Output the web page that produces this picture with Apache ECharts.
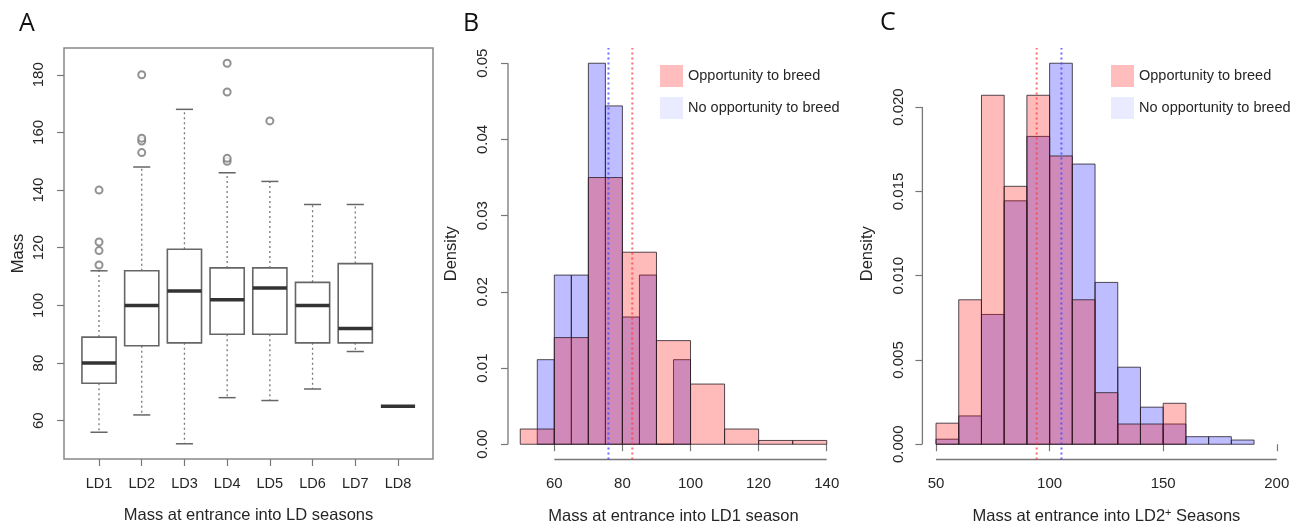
<!DOCTYPE html>
<html><head><meta charset="utf-8">
<script src="https://cdn.jsdelivr.net/npm/echarts@6/dist/echarts.min.js"></script>
<style>html,body{margin:0;padding:0;background:#fff}#c{width:1306px;height:526px}</style>
</head><body><div id="c"></div>
<script>
// ---------- Panel A data (boxplots) ----------
const categories = ['LD1','LD2','LD3','LD4','LD5','LD6','LD7','LD8'];
const boxLow  = [56, 62, 52, 68, 67, 71, 84, 65];
const boxQ1   = [73, 86, 87, 90, 90, 87, 87, 65];
const boxMed  = [80, 100, 105, 102, 106, 100, 92, 65];
const boxQ3   = [89, 112, 119.5, 113, 113, 108, 114.5, 65];
const boxHigh = [112, 148, 168, 146, 143, 135, 135, 65];
const outlierCat = [1, 1, 1, 1, 2, 2, 2, 2, 4, 4, 4, 4, 5];
const outlierVal = [114, 119, 122, 140, 153, 157, 158, 180, 150, 151, 174, 184, 164];
const aYTicks = [60, 80, 100, 120, 140, 160, 180];

// ---------- Panel B data (LD1 histograms) ----------
const bRedBreaks  = [50, 60, 70, 80, 90, 100, 110, 120, 130, 140];
const bRedDens    = [0.002, 0.014, 0.035, 0.0252, 0.0136, 0.0079, 0.002, 0.0005, 0.0005];
const bBlueBreaks = [55, 60, 65, 70, 75, 80, 85, 90, 95, 100];
const bBlueDens   = [0.0111, 0.0222, 0.0222, 0.05, 0.0444, 0.0167, 0.0222, 0, 0.0111];
const bRedMean = 82.9, bBlueMean = 75.9;
const bXTicks = [60, 80, 100, 120, 140];
const bYTicks = [0, 0.01, 0.02, 0.03, 0.04, 0.05];

// ---------- Panel C data (LD2+ histograms) ----------
const cRedBreaks  = [50, 60, 70, 80, 90, 100, 110, 120, 130, 140, 150, 160];
const cRedDens    = [0.00125, 0.00857, 0.0207, 0.0153, 0.0207, 0.0171, 0.00857, 0.00306, 0.0012, 0.0012, 0.00243];
const cBlueBreaks = [50, 60, 70, 80, 90, 100, 110, 120, 130, 140, 150, 160, 170, 180, 190];
const cBlueDens   = [0.0003, 0.00168, 0.0077, 0.01444, 0.01826, 0.0226, 0.01662, 0.0096, 0.00457, 0.0022, 0.0012, 0.00045, 0.00045, 0.00025];
const cRedMean = 94.3, cBlueMean = 105.2;
const cXTicks = [50, 100, 150, 200];
const cYTicks = [0, 0.005, 0.01, 0.015, 0.02];

const legendNames = ['Opportunity to breed', 'No opportunity to breed'];

// ---------- axis ranges (R style 4% extension) ----------
const aX = [0.18, 8.82], aY = [46.72, 189.28];
const bX = [46.4, 143.6], bY = [-0.002, 0.052];
const cX = [44, 206],     cY = [-0.000904, 0.023504];

const FONT = '"Liberation Sans", Arial, sans-serif';
const TXT = '#262626';
const RED_FILL = 'rgba(255,0,0,0.27)';
const BLUE_FILL = 'rgba(0,0,255,0.26)';
const BAR_STROKE = 'rgba(40,30,40,0.8)';

function seg(api, a, b, style) {
  const p = api.coord(a), q = api.coord(b);
  return { type: 'line', shape: { x1: p[0], y1: p[1], x2: q[0], y2: q[1] }, style: style };
}

function histSeries(name, idx, breaks, dens, fill) {
  return {
    type: 'custom', name: name, xAxisIndex: idx, yAxisIndex: idx, silent: true,
    itemStyle: { color: fill },
    encode: { x: [0, 1], y: 2 },
    data: dens.map((d, i) => [breaks[i], breaks[i + 1], d]),
    renderItem: function (params, api) {
      const p0 = api.coord([api.value(0), 0]);
      const p1 = api.coord([api.value(1), api.value(2)]);
      return { type: 'rect',
        shape: { x: p0[0], y: p1[1], width: p1[0] - p0[0], height: p0[1] - p1[1] },
        style: { fill: fill, stroke: BAR_STROKE, lineWidth: 1 } };
    }
  };
}

function meanLine(idx, m, yr, color) {
  return {
    type: 'custom', xAxisIndex: idx, yAxisIndex: idx, silent: true, z: 5,
    encode: { x: 0 }, data: [[m]],
    renderItem: function (params, api) {
      return seg(api, [api.value(0), yr[0]], [api.value(0), yr[1]],
        { stroke: color, lineWidth: 2, lineDash: [2, 3] });
    }
  };
}

function axisLines(idx, xTicks, yTicks, xr, yr) {
  return {
    type: 'custom', xAxisIndex: idx, yAxisIndex: idx, silent: true,
    encode: { x: [0, 1], y: [2, 3] },
    data: [[xTicks[0], xTicks[xTicks.length - 1], yr[0], yr[0]],
           [xr[0], xr[0], yTicks[0], yTicks[yTicks.length - 1]]],
    renderItem: function (params, api) {
      return seg(api, [api.value(0), api.value(2)], [api.value(1), api.value(3)],
        { stroke: '#777', lineWidth: 1.3 });
    }
  };
}

function valAxis(idx, range, ticks, extra) {
  return Object.assign({
    type: 'value', gridIndex: idx, min: range[0], max: range[1],
    splitLine: { show: false },
    axisLine: { show: false },
    axisTick: { show: true, length: 7, customValues: ticks, lineStyle: { color: '#777', width: 1.2 } },
    nameLocation: 'middle',
    nameTextStyle: { fontSize: 16.5, fontFamily: FONT, color: TXT }
  }, extra || {});
}

function xLab(ticks, fmt, size) {
  return { customValues: ticks, formatter: fmt, fontSize: size, fontFamily: FONT, color: TXT, margin: 17 };
}
function yLab(ticks, fmt, margin) {
  return { customValues: ticks, formatter: fmt, rotate: 90, margin: margin, fontSize: 15, fontFamily: FONT, color: TXT };
}

const boxData = categories.map((c, i) => [i + 1, boxLow[i], boxQ1[i], boxMed[i], boxQ3[i], boxHigh[i]]);
const letterStyle = { fontSize: 25, fontWeight: 'normal', fontFamily: '"Open Sans", sans-serif', color: '#111' };

const option = {
  backgroundColor: '#fff',
  animation: false,
  title: [
    { text: 'A', left: 19, top: 11, padding: 0, textStyle: letterStyle },
    { text: 'B', left: 463, top: 11, padding: 0, textStyle: letterStyle },
    { text: 'C', left: 880, top: 10, padding: 0, textStyle: letterStyle }
  ],
  legend: [
    { orient: 'vertical', left: 660, top: 65, padding: 0, itemWidth: 23, itemHeight: 22, itemGap: 10,
      selectedMode: false, icon: 'rect',
      textStyle: { fontSize: 14.5, fontFamily: FONT, color: TXT },
      data: [ { name: legendNames[0], itemStyle: { color: '#ffbdbd', borderWidth: 0 } },
              { name: legendNames[1], itemStyle: { color: '#ebebff', borderWidth: 0 } } ] },
    { orient: 'vertical', left: 1111, top: 65, padding: 0, itemWidth: 23, itemHeight: 22, itemGap: 10,
      selectedMode: false, icon: 'rect',
      textStyle: { fontSize: 14.5, fontFamily: FONT, color: TXT },
      data: [ { name: legendNames[0], itemStyle: { color: '#ffbdbd', borderWidth: 0 } },
              { name: legendNames[1], itemStyle: { color: '#ebebff', borderWidth: 0 } } ] }
  ],
  grid: [
    { left: 64, top: 48, width: 369, height: 411, outerBoundsMode: 'none', containLabel: false, show: true, borderColor: '#888', borderWidth: 1.5, backgroundColor: 'transparent' },
    { left: 508, top: 48, width: 331, height: 411.5, outerBoundsMode: 'none', containLabel: false, show: false },
    { left: 922.4, top: 48, width: 368, height: 411.5, outerBoundsMode: 'none', containLabel: false, show: false }
  ],
  xAxis: [
    valAxis(0, aX, [1, 2, 3, 4, 5, 6, 7, 8],
      { name: 'Mass at entrance into LD seasons', nameGap: 48,
        axisLabel: xLab([1, 2, 3, 4, 5, 6, 7, 8], v => categories[Math.round(v) - 1], 14.5) }),
    valAxis(1, bX, bXTicks,
      { name: 'Mass at entrance into LD1 season', nameGap: 48,
        axisLabel: xLab(bXTicks, v => String(v), 15) }),
    valAxis(2, cX, cXTicks,
      { name: 'Mass at entrance into LD2{sup|+} Seasons', nameGap: 48,
        nameTextStyle: { fontSize: 16.5, fontFamily: FONT, color: TXT,
          rich: { sup: { fontSize: 11, fontFamily: FONT, color: TXT, verticalAlign: 'top', lineHeight: 12 } } },
        axisLabel: xLab(cXTicks, v => String(v), 15) })
  ],
  yAxis: [
    valAxis(0, aY, aYTicks, { name: 'Mass', nameGap: 37, nameRotate: 90, axisLabel: yLab(aYTicks, v => String(v), 18) }),
    valAxis(1, bY, bYTicks, { name: 'Density', nameGap: 48, nameRotate: 90, axisLabel: yLab(bYTicks, v => v.toFixed(2), 18) }),
    valAxis(2, cY, cYTicks, { name: 'Density', nameGap: 46, nameRotate: 90, axisLabel: yLab(cYTicks, v => v.toFixed(3), 16) })
  ],
  series: [
    // Panel A boxplots
    {
      type: 'custom', xAxisIndex: 0, yAxisIndex: 0, silent: true,
      encode: { x: 0, y: [1, 2, 3, 4, 5] },
      data: boxData,
      renderItem: function (params, api) {
        const x = api.value(0), lo = api.value(1), q1 = api.value(2), md = api.value(3), q3 = api.value(4), hi = api.value(5);
        const dash = { stroke: '#777', lineWidth: 1.3, lineDash: [2, 3] };
        const cap = { stroke: '#666', lineWidth: 1.5 };
        const tl = api.coord([x - 0.4, q3]), br = api.coord([x + 0.4, q1]);
        return { type: 'group', children: [
          seg(api, [x, q3], [x, hi], dash),
          seg(api, [x, q1], [x, lo], dash),
          seg(api, [x - 0.2, hi], [x + 0.2, hi], cap),
          seg(api, [x - 0.2, lo], [x + 0.2, lo], cap),
          { type: 'rect', shape: { x: tl[0], y: tl[1], width: br[0] - tl[0], height: br[1] - tl[1] },
            style: { fill: '#fff', stroke: '#666', lineWidth: 1.6 } },
          seg(api, [x - 0.4, md], [x + 0.4, md], { stroke: '#333', lineWidth: 3.5 })
        ] };
      }
    },
    {
      type: 'scatter', xAxisIndex: 0, yAxisIndex: 0, silent: true, z: 4,
      symbol: 'emptyCircle', symbolSize: 7,
      itemStyle: { color: '#777', borderColor: '#777', borderWidth: 1.2 },
      data: outlierVal.map((v, i) => [outlierCat[i], v])
    },
    // Panel B
    histSeries(legendNames[1], 1, bBlueBreaks, bBlueDens, BLUE_FILL),
    histSeries(legendNames[0], 1, bRedBreaks, bRedDens, RED_FILL),
    meanLine(1, bBlueMean, bY, 'rgba(70,70,255,0.8)'),
    meanLine(1, bRedMean, bY, 'rgba(255,60,60,0.75)'),
    axisLines(1, bXTicks, bYTicks, bX, bY),
    // Panel C
    histSeries(legendNames[1], 2, cBlueBreaks, cBlueDens, BLUE_FILL),
    histSeries(legendNames[0], 2, cRedBreaks, cRedDens, RED_FILL),
    meanLine(2, cRedMean, cY, 'rgba(255,60,60,0.75)'),
    meanLine(2, cBlueMean, cY, 'rgba(70,70,255,0.8)'),
    axisLines(2, cXTicks, cYTicks, cX, cY)
  ]
};

const chart = echarts.init(document.getElementById('c'), null, { renderer: 'canvas' });
chart.setOption(option);
</script></body></html>
